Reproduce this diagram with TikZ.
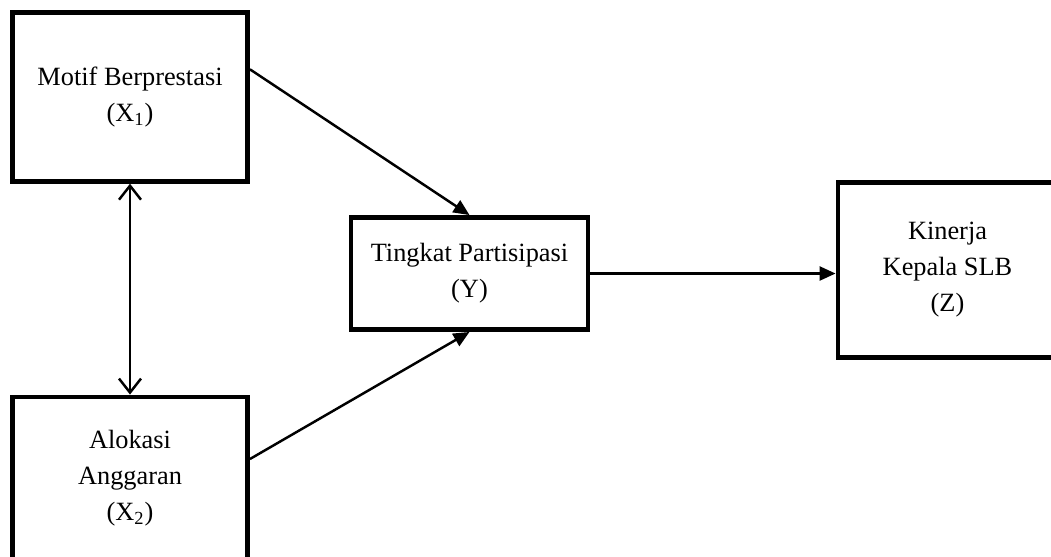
\documentclass[tikz,border=0pt]{standalone}
\usepackage{fontspec}
\setmainfont{Liberation Serif}
\usetikzlibrary{arrows.meta}

\begin{document}
\begin{tikzpicture}[x=0.02cm,y=-0.02cm,
    varbox/.style={draw,line width=2.8pt,align=center,inner sep=0pt,
        font=\fontsize{15}{20.5}\selectfont},
    path/.style={line width=1.4pt,-{Triangle[length=0.32cm,width=0.28cm]}},
    corr/.style={line width=1.4pt,{Straight Barb[length=0.28cm,width=0.44cm]}-{Straight Barb[length=0.28cm,width=0.44cm]}}]
    \clip (0,0) rectangle (1051,556);

    \node[varbox,minimum width=4.7cm,minimum height=3.37cm] (motif) at (130,97) {Motif Berprestasi\\(X\textsubscript{1})};
    \node[varbox,minimum width=4.7cm,minimum height=3.24cm] (alokasi) at (130,478) {Alokasi\\Anggaran\\(X\textsubscript{2})};
    \node[varbox,minimum width=4.74cm,minimum height=2.24cm] (tingkat) at (469.5,273.5) {Tingkat Partisipasi\\(Y)};
    \node[varbox,minimum width=4.38cm,minimum height=3.49cm] (kinerja) at (947.5,270) {Kinerja\\Kepala SLB\\(Z)};

    \draw[path] (motif.13) -- (tingkat.north);
    \draw[path] (alokasi.9) -- (tingkat.south);
    \draw[path] (tingkat.east) -- (tingkat.east -| kinerja.west);
    \draw[corr] (motif.south) -- (alokasi.north);
\end{tikzpicture}
\end{document}
